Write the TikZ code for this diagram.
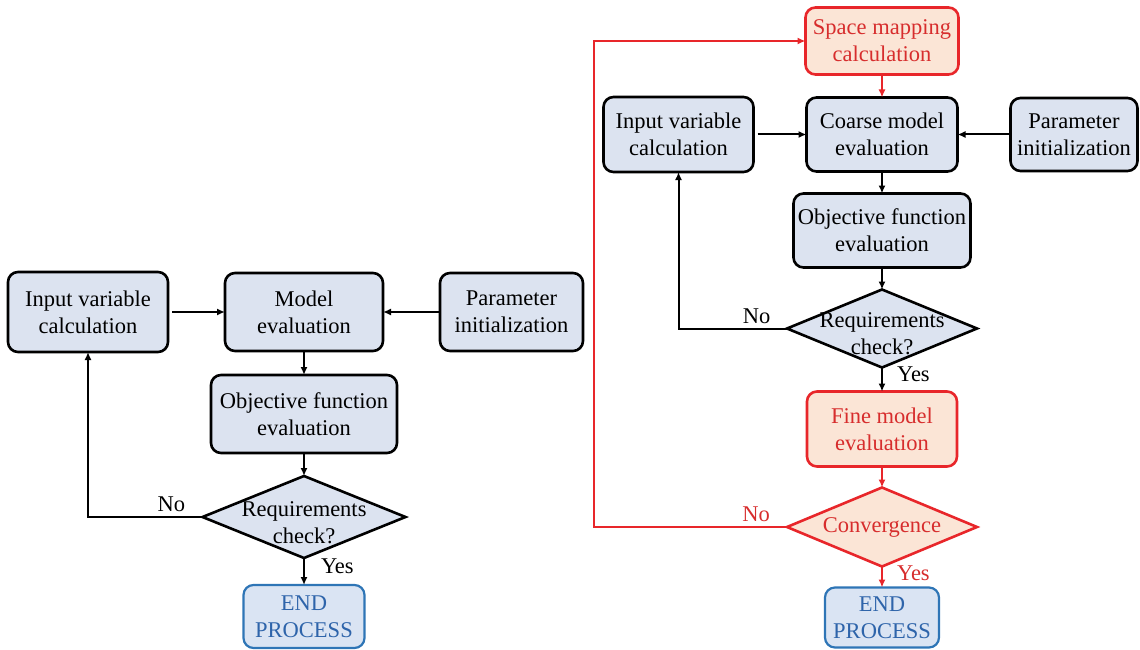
\documentclass[tikz,border=0pt]{standalone}
\usepackage{fontspec}
\setmainfont{Liberation Serif}
\usetikzlibrary{positioning,shapes,arrows.meta}

\definecolor{boxfill}{RGB}{220,227,240}
\definecolor{redline}{RGB}{232,38,42}
\definecolor{redfill}{RGB}{251,229,214}
\definecolor{redtext}{RGB}{215,45,45}
\definecolor{endline}{RGB}{46,117,182}
\definecolor{endfill}{RGB}{218,228,243}
\definecolor{endtext}{RGB}{46,100,170}

\begin{document}
\begin{tikzpicture}[
      x=1pt, y=-1pt,
      every node/.style={font=\fontsize{22.5}{27}\selectfont, align=center, outer sep=0pt},
      box/.style={draw, line width=2.6pt, rounded corners=10pt, fill=boxfill, inner sep=2pt},
      redbox/.style={box, draw=redline, fill=redfill, text=redtext},
      endbox/.style={box, draw=endline, fill=endfill, text=endtext, line width=2.2pt},
      check/.style={diamond, draw, line width=2.6pt, fill=boxfill, inner sep=-30pt},
      lowtext/.style={text height=52pt, text depth=0pt},
      redcheck/.style={check, draw=redline, fill=redfill, text=redtext},
      arrow/.style={-{Latex[length=8pt, width=7pt]}, line width=2pt},
      redarrow/.style={arrow, draw=redline},
      lbl/.style={inner sep=3pt},
  ]
    \useasboundingbox (0,0) rectangle (1140,650);

    % Left: plain optimisation loop
    \node[box, minimum width=158pt, minimum height=78pt] (model) at (304,312) {Model\\evaluation};
    \node[box, minimum width=160pt, minimum height=80pt, left=57pt of model] (inL) {Input variable\\calculation};
    \node[box, minimum width=143pt, minimum height=78pt, right=57pt of model] (parL) {Parameter\\initialization};
    \node[box, minimum width=186pt, minimum height=78pt, below=24pt of model] (objL) {Objective function\\evaluation};
    \node[check, lowtext, minimum width=203pt, minimum height=82pt, below=23pt of objL] (reqL) {Requirements\\check?};
    \node[endbox, minimum width=121pt, minimum height=63pt, below=27pt of reqL] (endL) {END\\PROCESS};

    \draw[arrow, shorten <=4pt] (inL.east) -- (inL.east -| model.west);
    \draw[arrow] (parL.west) -- (parL.west -| model.east);
    \draw[arrow] (model) -- (objL);
    \draw[arrow] (objL) -- (reqL);
    \draw[arrow] (reqL) -- node[lbl, pos=0.3, right=14pt] {Yes} (endL);
    \draw[arrow] (reqL.west) -| node[lbl, pos=0.136, above=2pt] {No} (inL.south);

    % Right: space mapping loop
    \node[redbox, minimum width=153pt, minimum height=67pt] (space) at (882,41) {Space mapping\\calculation};
    \node[box, minimum width=151pt, minimum height=74pt, below=23pt of space] (coarse) {Coarse model\\evaluation};
    \node[box, minimum width=150pt, minimum height=75pt, left=53pt of coarse] (inR) {Input variable\\calculation};
    \node[box, minimum width=127pt, minimum height=73pt, right=53pt of coarse] (parR) {Parameter\\initialization};
    \node[box, minimum width=177pt, minimum height=74pt, below=22pt of coarse] (objR) {Objective function\\evaluation};
    \node[check, lowtext, minimum width=190pt, minimum height=78pt, below=22pt of objR] (reqR) {Requirements\\check?};
    \node[redbox, minimum width=150pt, minimum height=75pt, below=24pt of reqR] (fine) {Fine model\\evaluation};
    \node[redcheck, minimum width=190pt, minimum height=79pt, below=21pt of fine] (conv) {Convergence};
    \node[endbox, minimum width=114pt, minimum height=60pt, below=21pt of conv] (endR) {END\\PROCESS};
    \coordinate (back) at (594,43);

    \draw[redarrow] (space) -- (coarse);
    \draw[arrow, shorten <=4pt] (inR.east) -- (inR.east -| coarse.west);
    \draw[arrow] (parR.west) -- (parR.west -| coarse.east);
    \draw[arrow] (coarse) -- (objR);
    \draw[arrow] (objR) -- (reqR);
    \draw[arrow] (reqR) -- node[lbl, pos=0.3, right=12pt] {Yes} (fine);
    \draw[arrow] (reqR.west) -| node[lbl, pos=0.14, above=2pt] {No} (inR.south);
    \draw[redarrow] (fine) -- (conv);
    \draw[redarrow] (conv) -- node[lbl, text=redtext, pos=0.3, right=12pt] {Yes} (endR);
    \draw[redarrow] (conv.west) -- node[lbl, text=redtext, pos=0.16, above=2pt] {No} (conv.west -| back) |- (space.west);
  \end{tikzpicture}
\end{document}
